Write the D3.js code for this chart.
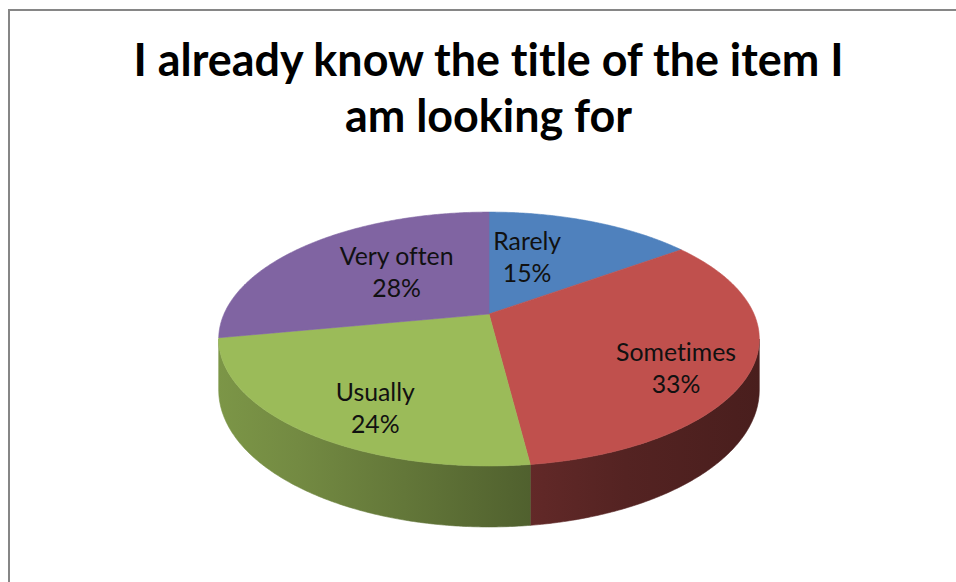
<!DOCTYPE html>
<html>
<head>
<meta charset="utf-8">
<script src="https://cdn.jsdelivr.net/npm/d3@7"></script>
<style>
  html, body { margin: 0; padding: 0; background: #ffffff; overflow: hidden; }
  svg { display: block; }
  text { font-variant-ligatures: none; font-feature-settings: "liga" 0, "clig" 0; }
</style>
</head>
<body>
<svg id="chart" width="956" height="582"></svg>
<script>
// ---- data ----
const categories = ["Rarely", "Sometimes", "Usually", "Very often"];
const shares = [15, 33, 24, 28];
const titleLines = ["I already know the title of the item I", "am looking for"];

// ---- styling / layout ----
const sliceColors = ["#4F81BD", "#C0504D", "#9BBB59", "#8064A2"];
const W = 956, H = 582;
const cx = 489, cy = 314;          // projected centre of the pie top
const rx = 265, ry = 122;          // horizontal / vertical radius of the tilted disc
const persp = 0.197;               // perspective strength (near side larger)
const depth = 49;                  // thickness of the pie
// label anchors on the disc: angular nudge (deg) from the slice middle and radius fraction
const labelSpots = [
  { turn: -9.6, radius: 0.53 },
  { turn: 9.3, radius: 0.77 },
  { turn: -7.1, radius: 0.77 },
  { turn: 4.5, radius: 0.52 }
];

const svg = d3.select("#chart");

// chart frame (continues past the right and bottom edges)
svg.append("rect")
  .attr("x", 9).attr("y", 10)
  .attr("width", W + 20).attr("height", H + 20)
  .attr("fill", "#ffffff")
  .attr("stroke", "#868686")
  .attr("stroke-width", 2);

// ---- title ----
const titleFont = "Lato, 'Open Sans', sans-serif";
const titleG = svg.append("g");
const titleBase = [76, 132];
const t0 = titleG.append("text")
  .attr("font-family", titleFont).attr("font-weight", 700).attr("font-size", 40)
  .text(titleLines[0]);
const titleSize = 40 * 710 / t0.node().getComputedTextLength();
t0.remove();
titleG.selectAll("text").data(titleLines).join("text")
  .attr("x", 488.5)
  .attr("y", (d, i) => titleBase[i])
  .attr("text-anchor", "middle")
  .attr("font-family", titleFont)
  .attr("font-weight", 700)
  .attr("font-size", titleSize)
  .attr("fill", "#000000")
  .text(d => d);

// ---- projection of the tilted disc ----
// angle a: 0 at the far (top) side, clockwise; r: fraction of radius; h: drop below the top face
function project(a, r, h) {
  const u = r * Math.sin(a), v = -r * Math.cos(a);
  const den = 1 - persp * v;
  return [cx + rx * u / den, cy + (ry * v + (h || 0)) / den];
}

function arcPoints(a0, a1, h) {
  const n = Math.max(2, Math.ceil(Math.abs(a1 - a0) / (Math.PI / 360)));
  return d3.range(n + 1).map(i => project(a0 + (a1 - a0) * i / n, 1, h));
}

const pie = d3.pie().value(d => d).sort(null);
const slices = pie(shares).map((s, i) => ({ ...s, name: categories[i], color: sliceColors[i], idx: i }));

// ---- wall shading gradients ----
const defs = svg.append("defs");
const shade = [[0, 0.80], [0.15, 0.74], [0.6, 0.50], [0.75, 0.44], [1, 0.38]];
slices.forEach(s => {
  const c = d3.rgb(s.color);
  const g = defs.append("linearGradient")
    .attr("id", "wall" + s.idx)
    .attr("gradientUnits", "userSpaceOnUse")
    .attr("x1", cx - rx - 8).attr("y1", 0)
    .attr("x2", cx + rx + 8).attr("y2", 0);
  shade.forEach(([o, f]) => {
    g.append("stop")
      .attr("offset", o)
      .attr("stop-color", d3.rgb(c.r * f, c.g * f, c.b * f).formatHex());
  });
});

const line = d3.line();

// ---- side walls: only the part between the two silhouette points faces the viewer ----
const edgeA = Math.acos(-persp);          // right silhouette (v = persp)
const lo = edgeA, hi = 2 * Math.PI - edgeA;
const wallG = svg.append("g");
slices.forEach(s => {
  const a0 = Math.max(s.startAngle, lo), a1 = Math.min(s.endAngle, hi);
  if (a1 - a0 < 0.01) return;
  const top = arcPoints(a0, a1, 0);
  const bottom = arcPoints(a0, a1, depth).reverse();
  wallG.append("path")
    .attr("d", line(top.concat(bottom)) + "Z")
    .attr("fill", `url(#wall${s.idx})`)
    .attr("stroke", `url(#wall${s.idx})`)
    .attr("stroke-width", 0.6);
});

// ---- top faces ----
const topG = svg.append("g");
slices.forEach(s => {
  const pts = [project(0, 0, 0)].concat(arcPoints(s.startAngle, s.endAngle, 0));
  topG.append("path")
    .attr("d", line(pts) + "Z")
    .attr("fill", s.color)
    .attr("stroke", s.color)
    .attr("stroke-width", 0.6);
});

// ---- data labels ----
const labelFont = "Lato, 'Open Sans', sans-serif";
const probe = svg.append("text").attr("font-family", labelFont).attr("font-size", 24).text("Sometimes");
const labelSize = 24 * 120 / probe.node().getComputedTextLength();
probe.remove();

const total = d3.sum(shares);
const labelG = svg.append("g");
slices.forEach(s => {
  const spot = labelSpots[s.idx];
  const mid = (s.startAngle + s.endAngle) / 2 + spot.turn * Math.PI / 180;
  const [lx, ly] = project(mid, spot.radius, 0);
  const t = labelG.append("text")
    .attr("text-anchor", "middle")
    .attr("font-family", labelFont)
    .attr("font-size", labelSize)
    .attr("fill", "#111111");
  t.append("tspan").attr("x", lx).attr("y", ly - 8).text(s.name);
  t.append("tspan").attr("x", lx).attr("y", ly + 24).text(Math.round(s.value / total * 100) + "%");
});
</script>
</body>
</html>
